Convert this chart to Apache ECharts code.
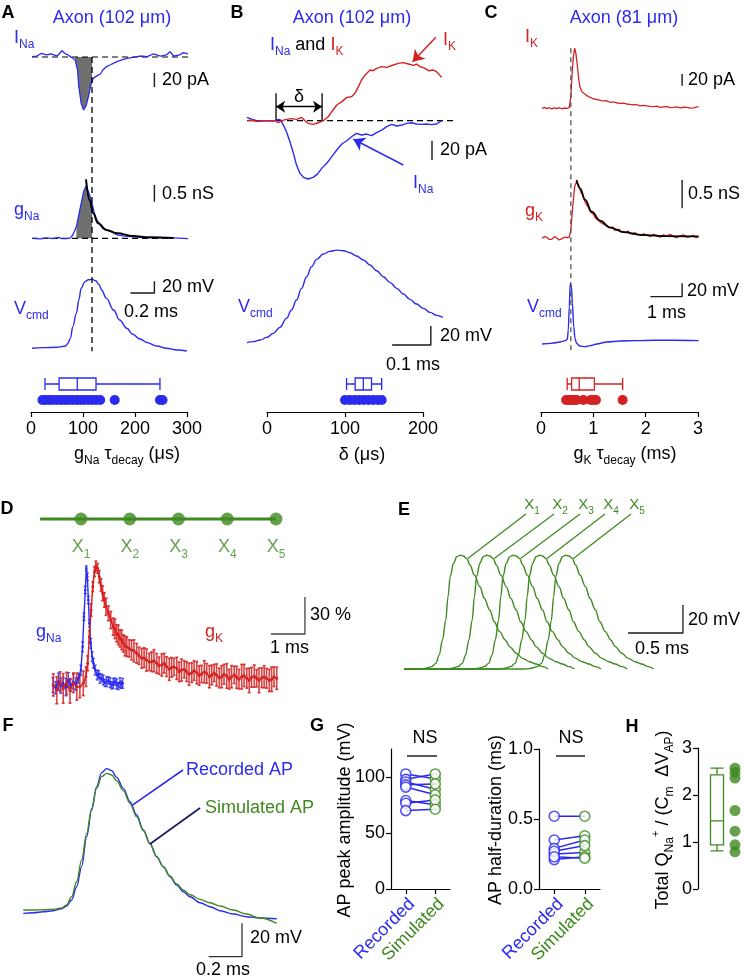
<!DOCTYPE html>
<html><head><meta charset="utf-8">
<script src="https://cdn.jsdelivr.net/npm/echarts@6/dist/echarts.min.js"></script>
<style>html,body{margin:0;padding:0;background:#fff}#c{width:744px;height:979px}</style>
</head><body><div id="c"></div>
<script>
const FONT = '"Liberation Sans", Arial, Helvetica, sans-serif';
const BLUE = '#2b2bef', RED = '#d42222', GREEN = '#3f8a20', GRAY = '#6f6f6f', NAVY = '#17175e';

// ---------------- DATA ----------------
// Panel A (time ms, I pA / g nS / V mV)
const aINa = [[0,0.5],[0.04,1.4],[0.08,5.2],[0.12,2.9],[0.16,4.3],[0.21,1.4],[0.25,9],[0.28,4.3],[0.30,2.9],[0.33,-0.5],[0.36,-4.3],[0.38,-18.6],[0.39,-42.4],[0.41,-66],[0.43,-75.7],[0.45,-70],[0.47,-56.7],[0.49,-40],[0.50,-35],[0.51,-30.5],[0.54,-27],[0.57,-24.3],[0.59,-18.6],[0.62,-13.8],[0.65,-11.4],[0.69,-8.1],[0.73,-5.2],[0.79,-1.9],[0.84,-0.5],[0.90,1.4],[0.96,0.5],[1.01,4.3],[1.07,1.4],[1.12,2.9],[1.15,7.6],[1.18,1.4],[1.23,2.9],[1.26,6.2],[1.30,4.3]];
const aGNa = [[0,0],[0.07,-0.02],[0.12,0.01],[0.18,-0.01],[0.22,0.03],[0.25,-0.01],[0.29,-0.01],[0.32,0.01],[0.34,0.1],[0.37,0.35],[0.39,0.7],[0.41,1.05],[0.43,1.4],[0.45,1.57],[0.46,1.5],[0.48,1.3],[0.50,1.05],[0.52,0.75],[0.54,0.55],[0.57,0.4],[0.59,0.3],[0.62,0.25],[0.66,0.2],[0.71,0.1],[0.76,0.07],[0.82,0.05],[0.90,0.03],[0.98,0.02],[1.07,0.02],[1.18,0.01],[1.30,-0.01]];
const aGNaFit = [[0.45,1.77],[0.48,1.15],[0.51,0.75],[0.55,0.45],[0.62,0.25],[0.71,0.15],[0.84,0.07],[0.98,0.03],[1.18,0.01]];
const aVcmd = [[0,-70],[0.09,-68.9],[0.21,-68.3],[0.28,-66],[0.30,-61.4],[0.32,-52.9],[0.34,-32.9],[0.37,-10],[0.39,12.9],[0.41,32.9],[0.44,44],[0.47,47.5],[0.50,48.3],[0.53,46],[0.56,39],[0.58,30],[0.62,15.7],[0.68,-4.3],[0.73,-21.4],[0.79,-35.7],[0.84,-46],[0.90,-54],[0.96,-60.3],[1.04,-66],[1.12,-70],[1.21,-72.9],[1.29,-74.6]];
const aMark = 0.5;        // ms, dashed vertical line
const aFillRange = [0.35, 0.5];
const aBox = [27, 54, 89, 125, 248];  // gNa tau decay (us): min,Q1,median,Q3,max
const aDots = [22, 28, 35, 42, 50, 58, 65, 72, 80, 88, 95, 102, 110, 118, 125, 133, 161, 248, 253];

// Panel B
const bINa = [[0,3.4],[0.012,1.7],[0.025,0],[0.042,0],[0.059,0],[0.072,0],[0.081,1.4],[0.087,0.7],[0.094,-4.5],[0.102,-11.4],[0.111,-21.7],[0.12,-33.8],[0.128,-45.9],[0.137,-54.5],[0.146,-58.6],[0.158,-60.3],[0.171,-58.6],[0.182,-55.2],[0.193,-49.3],[0.206,-44.1],[0.219,-37.2],[0.232,-30.3],[0.245,-24.1],[0.258,-20.7],[0.27,-16.6],[0.283,-13.1],[0.296,-14.8],[0.309,-13.8],[0.322,-15.5],[0.335,-12.4],[0.348,-9.7],[0.361,-6.2],[0.374,-3.8],[0.387,-5.5],[0.4,-4.5],[0.413,-2.8],[0.425,-2.1],[0.438,-3.4],[0.451,-3.8],[0.464,-3.4],[0.477,-4.1],[0.49,-3.4],[0.503,0]];
const bIK = [[0,0],[0.012,0.7],[0.025,-1],[0.042,0],[0.059,0],[0.072,0],[0.081,-2.1],[0.09,0],[0.102,1.4],[0.115,2.1],[0.128,1.4],[0.141,3.4],[0.15,0],[0.158,-2.8],[0.171,-3.8],[0.184,-2.1],[0.197,0],[0.21,4.1],[0.219,9.3],[0.232,16.2],[0.245,19.7],[0.258,24.1],[0.27,24.8],[0.279,28.3],[0.288,35.2],[0.296,42.1],[0.305,47.2],[0.318,52.4],[0.326,51.7],[0.335,54.1],[0.348,55.9],[0.361,55.2],[0.378,57.6],[0.391,59.3],[0.404,60],[0.417,58.6],[0.43,57.2],[0.438,58.6],[0.447,55.9],[0.46,54.1],[0.469,51.7],[0.481,52.4],[0.49,50.7],[0.503,44.8]];
const bVcmd = [[0,-70],[0.016,-68.9],[0.034,-67.2],[0.051,-64.4],[0.068,-60.2],[0.085,-53.9],[0.102,-44.4],[0.115,-35.6],[0.128,-25.1],[0.141,-12.8],[0.154,-0.5],[0.167,10],[0.18,17.7],[0.197,23.3],[0.214,26.1],[0.232,27.5],[0.249,26.8],[0.266,24.7],[0.283,21.2],[0.301,17],[0.318,11.8],[0.335,5.8],[0.352,-0.5],[0.37,-6.8],[0.387,-12.8],[0.404,-18.8],[0.421,-24.4],[0.438,-29.3],[0.456,-33.9],[0.473,-38.1],[0.49,-41.2],[0.506,-43.3]];
const bDelta = [0.075, 0.194];   // ms
const bBox = [102, 113, 123.5, 134, 147];   // delta (us)
const bDots = [100, 106, 112, 118, 124, 130, 136, 142, 147];

// Panel C
const cIK = [[0,0],[0.08,1.5],[0.15,-0.5],[0.23,1],[0.31,-1],[0.39,0.8],[0.46,-0.6],[0.54,1.2],[0.62,-0.8],[0.7,0.5],[0.78,-0.3],[0.86,1.7],[0.91,20],[0.95,60],[0.99,88.6],[1.03,103],[1.07,94],[1.12,71],[1.16,49],[1.2,36],[1.26,28.6],[1.31,27],[1.36,24],[1.41,22.5],[1.46,20],[1.54,18.5],[1.62,16],[1.7,15.5],[1.78,14.3],[1.86,13],[1.94,12.6],[2.02,13],[2.09,11.4],[2.17,10.2],[2.25,10.9],[2.35,9.5],[2.46,8.6],[2.56,9],[2.67,7.4],[2.77,6.8],[2.88,5.7],[2.98,6.5],[3.09,4],[3.2,5],[3.31,4],[3.41,3.2],[3.52,2.9],[3.62,3.8],[3.73,1.7],[3.83,2.6],[3.94,2.9],[4.04,1.2],[4.15,1.7],[4.25,2.4],[4.36,0.6],[4.46,1.8],[4.57,1.7],[4.67,0.3],[4.78,0.6],[4.86,1.9],[4.94,2.9]];
const cGK = [[0,0],[0.08,0.03],[0.15,0.02],[0.23,-0.02],[0.31,-0.02],[0.39,0.03],[0.46,0.01],[0.54,-0.03],[0.62,-0.01],[0.7,0.02],[0.78,0.01],[0.86,0.02],[0.91,0.15],[0.97,0.56],[1.03,0.91],[1.09,1.0],[1.16,0.94],[1.22,0.82],[1.27,0.78],[1.31,0.71],[1.36,0.64],[1.41,0.59],[1.46,0.55],[1.52,0.47],[1.57,0.44],[1.63,0.42],[1.68,0.36],[1.73,0.34],[1.8,0.31],[1.87,0.27],[1.94,0.25],[2.0,0.26],[2.07,0.21],[2.15,0.19],[2.22,0.2],[2.29,0.14],[2.36,0.15],[2.43,0.16],[2.5,0.11],[2.57,0.12],[2.64,0.1],[2.71,0.13],[2.78,0.09],[2.85,0.07],[2.92,0.1],[2.99,0.08],[3.1,0.05],[3.2,0.08],[3.31,0.06],[3.41,0.03],[3.52,0.07],[3.62,0.05],[3.73,0.02],[3.83,0.06],[3.94,0.04],[4.04,0.07],[4.15,0.03],[4.25,0.01],[4.36,0.04],[4.46,0.06],[4.57,0.02],[4.67,0.03],[4.78,0.05],[4.86,0.01],[4.94,0.03]];
const cGKFit = [[1.09,1.03],[1.2,0.88],[1.36,0.68],[1.57,0.47],[1.83,0.31],[2.15,0.19],[2.57,0.11],[3.09,0.06],[3.83,0.04],[4.94,0.035]];
const cVcmd = [[0,-70],[0.15,-69.5],[0.36,-68.5],[0.57,-67],[0.73,-65],[0.8,-63],[0.83,-49],[0.86,-14],[0.89,21],[0.93,16],[0.96,-9],[1.0,-44],[1.04,-61.5],[1.09,-69],[1.2,-73],[1.36,-74],[1.52,-72.5],[1.73,-70],[2.04,-67],[2.46,-65.5],[2.99,-65],[3.52,-64.5],[4.15,-64.5],[4.94,-65]];
const cMark = 0.91;
const cBox = [0.5, 0.585, 0.73, 1.02, 1.56];   // gK tau decay (ms)
const cDots = [0.48, 0.52, 0.56, 0.6, 0.64, 0.68, 0.81, 0.95, 1.0, 1.05, 1.56];

// Panel D (normalised conductance, %)
const siteNames = ['1', '2', '3', '4', '5'];
const dSites = [1, 2, 3, 4, 5];
const dAxonStart = 0.16;
const dGNa = [[0,3.3],[0.08,1],[0.16,6],[0.23,2.5],[0.3,4.6],[0.38,1.5],[0.45,7.3],[0.52,3],[0.6,6],[0.67,4],[0.75,8.7],[0.82,15.4],[0.87,34.4],[0.91,58.8],[0.95,80.5],[0.98,98.1],[1.01,91.3],[1.04,72.4],[1.07,53.4],[1.11,37.1],[1.15,26.3],[1.19,20.9],[1.24,15.4],[1.3,11.4],[1.34,12],[1.38,8.7],[1.43,9],[1.48,7.3],[1.53,5],[1.58,6],[1.63,7],[1.68,5.1],[1.73,3],[1.77,4.6],[1.82,6],[1.87,4.1],[1.92,2.5],[1.97,5.1],[2.01,3.5],[2.05,4.6]];
const dGNaErr = [6,5,7,6,5,7,6,5,6,5,4,4,4,3,3,2,3,3,3,4,4,4,4,4,3,4,3,4,3,4,3,4,3,4,3,4,3,4,3,4];
const dGK = [[0.01,3.3],[0.11,-1],[0.21,6],[0.3,0.5],[0.4,4.6],[0.5,-1.5],[0.6,5.1],[0.7,2],[0.79,1.9],[0.89,4.6],[0.97,10],[1.02,20.9],[1.07,42.5],[1.12,64.2],[1.17,83.2],[1.22,95.4],[1.26,100],[1.31,98.1],[1.36,91.3],[1.41,84.6],[1.46,77.8],[1.51,72.4],[1.56,66.9],[1.63,61.5],[1.7,56.1],[1.77,50.7],[1.82,49],[1.87,45.3],[1.92,44],[1.97,41.2],[2.02,40],[2.07,37.1],[2.12,35],[2.17,34.4],[2.24,33],[2.31,31.7],[2.38,31],[2.46,29],[2.53,27],[2.61,24.9],[2.68,25.5],[2.75,23.6],[2.83,22],[2.9,22.2],[2.97,23],[3.05,20.9],[3.12,19],[3.2,19.5],[3.27,21],[3.34,18.2],[3.42,16],[3.49,17.6],[3.56,18],[3.64,16.8],[3.71,14],[3.78,15.4],[3.86,16],[3.93,14.1],[4.0,12],[4.08,13.3],[4.15,15],[4.23,13.3],[4.3,11],[4.37,12.2],[4.45,14],[4.52,12.7],[4.6,10],[4.67,11.4],[4.74,13],[4.81,11.4],[4.89,9],[4.96,10],[5.03,12],[5.11,10.6],[5.18,8],[5.25,10],[5.33,11.5],[5.4,9.5],[5.47,8],[5.55,10],[5.62,11],[5.7,8.7],[5.77,7],[5.84,9.5],[5.92,10.5],[5.99,8.7],[6.06,7],[6.14,9.2],[6.21,10],[6.28,8.7],[6.36,7],[6.43,7.9],[6.5,10],[6.58,8.7]];
const dGKErr = [9,11,8,12,9,10,8,11,9,10, 8,6,5,5,4,4,4,4,5,5, 6,6,7,6,7,7,8,7,8,7, 8,7,8,8,7,8,9,8,7,8, 8,9,7,8,9,8,7,9,8,8, 9,8,7,9,8,9,7,8,9,8, 8,9,8,7,9,8,9,8,7,9, 8,9,8,10,8,9,7,9,8,10, 9,8,10,8,9,7,10,8,9,8, 9,10,8,9];

// Panel E (simulated AP at X1..X5)
const eShape = [[0,-70],[0.14,-70],[0.2,-69.5],[0.25,-68.3],[0.29,-66],[0.32,-60],[0.35,-49.3],[0.38,-35],[0.4,-18.3],[0.42,-4],[0.45,5.5],[0.48,10.2],[0.51,11.2],[0.54,10.7],[0.57,9],[0.6,4.3],[0.64,-2.9],[0.69,-11.2],[0.73,-19.5],[0.78,-27.9],[0.82,-36.2],[0.87,-43.3],[0.92,-49.3],[0.96,-54],[1.02,-58.8],[1.08,-62.4],[1.14,-64.8],[1.2,-66.4],[1.26,-68.3],[1.31,-70]];
const eDelays = [0, 0.24, 0.48, 0.72, 0.96];   // ms

// Panel F
const fRecorded = [[0,-71.6],[0.06,-71.2],[0.12,-70.6],[0.18,-70],[0.23,-68.8],[0.26,-67.2],[0.29,-63.6],[0.32,-55.6],[0.35,-43.6],[0.38,-25.6],[0.41,-9.6],[0.44,4.4],[0.47,12.8],[0.5,15.2],[0.53,14],[0.56,10],[0.6,3.4],[0.64,-4.6],[0.68,-12.6],[0.72,-21.6],[0.76,-29.6],[0.8,-37.6],[0.84,-43.6],[0.88,-49.6],[0.92,-54.6],[0.96,-58.6],[1.0,-61.6],[1.06,-65.2],[1.12,-67.6],[1.18,-70],[1.26,-72],[1.34,-73.6],[1.42,-74.4],[1.52,-74.8]];
const fSimulated = [[0,-69.6],[0.06,-69.6],[0.12,-69.4],[0.18,-69.2],[0.23,-68.4],[0.26,-66.6],[0.29,-61.6],[0.32,-52.6],[0.35,-39.6],[0.38,-23.6],[0.41,-8.6],[0.44,3.4],[0.47,10.4],[0.5,12.4],[0.53,11.4],[0.56,8],[0.6,2],[0.64,-5.6],[0.68,-13.6],[0.72,-22],[0.76,-30],[0.8,-37.6],[0.84,-43.6],[0.88,-49.2],[0.92,-54],[0.96,-57.6],[1.0,-60.4],[1.06,-63.2],[1.12,-65.2],[1.18,-67.2],[1.26,-69.6],[1.34,-72],[1.42,-74.4],[1.52,-77.6]];

// Panel G
const gCats = ['Recorded', 'Simulated'];
const gAmpRec = [102.7, 97.9, 95.5, 93, 91, 79, 76.5, 70];
const gAmpSim = [98.5, 102.7, 89, 93.8, 84.2, 75.3, 79.5, 71.2];
const gAmpTicks = [0, 50, 100];
const gHalfRec = [0.52, 0.35, 0.29, 0.25, 0.21, 0.27, 0.23];
const gHalfSim = [0.52, 0.38, 0.35, 0.26, 0.23, 0.31, 0.22];

// Panel H
const hBox = [0.81, 0.94, 1.45, 2.43, 2.57];
const hDots = [2.57, 2.48, 2.36, 1.67, 1.23, 0.94, 0.79];

// ---------------- BUILD ----------------
const grids = [], xAxes = [], yAxes = [], series = [], graphics = [];

function addGrid(x0, sx, y0, sy, xr, yr) {
  const i = grids.length;
  grids.push({left: x0 + xr[0] * sx, top: y0 - yr[1] * sy, width: (xr[1] - xr[0]) * sx, height: (yr[1] - yr[0]) * sy});
  xAxes.push({type: 'value', gridIndex: i, min: xr[0], max: xr[1], show: false});
  yAxes.push({type: 'value', gridIndex: i, min: yr[0], max: yr[1], show: false});
  return i;
}
function line(gi, data, color, width, extra) {
  const s = Object.assign({type: 'line', xAxisIndex: gi, yAxisIndex: gi, data: data, symbol: 'none', showSymbol: false,
    lineStyle: {color: color, width: width}, itemStyle: {color: color}, silent: true, animation: false, clip: false, z: 3}, extra || {});
  series.push(s);
  return s;
}
function richSet(size, sub) {
  const cols = {B: BLUE, R: RED, G: GREEN, K: '#000'};
  const r = {};
  for (const k in cols) {
    r['m' + k] = {fontSize: size, lineHeight: size + 8, fill: cols[k], fontFamily: FONT};
    r['s' + k] = {fontSize: sub, lineHeight: sub + 4, verticalAlign: 'bottom', fill: cols[k], fontFamily: FONT};
    r['p' + k] = {fontSize: sub - 1, lineHeight: sub + 6, verticalAlign: 'top', fill: cols[k], fontFamily: FONT};
  }
  return r;
}
function T(x, y, text, color, o) {
  o = o || {};
  const size = o.size || 18, sub = o.sub || 12;
  graphics.push({type: 'text', x: x, y: y, rotation: o.rot || 0, z: 100, silent: true,
    style: {text: text, fill: color || '#000', fontSize: size, fontFamily: FONT, fontWeight: o.bold ? 'bold' : 'normal',
      align: o.align || 'left', verticalAlign: 'middle', rich: richSet(size, sub)}});
}
function L(x1, y1, x2, y2, color, w, dash) {
  graphics.push({type: 'line', z: 50, silent: true, shape: {x1: x1, y1: y1, x2: x2, y2: y2},
    style: {stroke: color, lineWidth: w || 1.3, lineDash: dash || null}});
}
const SB = '#1a1a1a';
const dashed = {type: [6, 4]};

// ---- Panel A ----
const gA1 = addGrid(32, 120, 57, 0.7, [0, 1.3], [-80, 20]);
const gA2 = addGrid(32, 120, 238.3, 33.3, [0, 1.3], [-0.1, 1.9]);
const gA3 = addGrid(32, 120, 307.5, 0.583, [0, 1.3], [-80, 55]);
const inFill = p => p[0] >= aFillRange[0] && p[0] <= aFillRange[1];
line(gA1, aINa.filter(inFill), GRAY, 0, {areaStyle: {color: GRAY, opacity: 1}, z: 1});
line(gA2, aGNa.filter(inFill), GRAY, 0, {areaStyle: {color: GRAY, opacity: 1}, z: 1});
line(gA1, [[0, 0], [1.3, 0]], '#000', 1.2, {lineStyle: Object.assign({color: '#000', width: 1.2}, dashed), z: 2});
line(gA2, [[0, 0], [1.17, 0]], '#000', 1.2, {lineStyle: Object.assign({color: '#000', width: 1.2}, dashed), z: 2});
line(gA1, aINa, BLUE, 1.3);
line(gA2, aGNa, BLUE, 1.3);
line(gA2, aGNaFit, '#000', 2, {smooth: 0.4, smoothMonotone: 'x', z: 4});
line(gA3, aVcmd, BLUE, 1.4, {smooth: 0.4, smoothMonotone: 'x'});
line(gA1, [[1.02, -23], [1.02, -43]], SB, 1.4);
line(gA2, [[1.02, 1.6], [1.02, 1.1]], SB, 1.4);
line(gA3, [[0.82, 25], [1.02, 25], [1.02, 45]], SB, 1.4);

// ---- Panel B ----
const gB1 = addGrid(247, 387, 120.7, 0.967, [0, 0.55], [-70, 90]);
const gB2 = addGrid(247, 387, 276.2, 0.95, [0, 0.55], [-80, 35]);
line(gB1, [[0, 0], [0.537, 0]], '#000', 1.2, {lineStyle: Object.assign({color: '#000', width: 1.2}, dashed), z: 2,
  markLine: {silent: true, animation: false, symbol: ['arrow', 'arrow'], symbolSize: 9, label: {show: false},
    lineStyle: {color: '#000', width: 1.3, type: 'solid'},
    data: [[{coord: [bDelta[0], 14.5]}, {coord: [bDelta[1], 14.5]}]]}});
line(gB1, [[bDelta[0], 0], [bDelta[0], 28.3]], '#000', 1.3);
line(gB1, [[bDelta[1], 0], [bDelta[1], 28.3]], '#000', 1.3);
line(gB1, bINa, BLUE, 1.4, {markLine: {silent: true, animation: false, symbol: ['none', 'arrow'], symbolSize: 11, label: {show: false},
  lineStyle: {color: BLUE, width: 1.5, type: 'solid'}, data: [[{coord: [0.404, -45.8]}, {coord: [0.275, -19.2]}]]}});
line(gB1, bIK, RED, 1.4, {markLine: {silent: true, animation: false, symbol: ['none', 'arrow'], symbolSize: 11, label: {show: false},
  lineStyle: {color: RED, width: 1.5, type: 'solid'}, data: [[{coord: [0.488, 86.2]}, {coord: [0.428, 61]}]]}});
line(gB2, bVcmd, BLUE, 1.4, {smooth: 0.4, smoothMonotone: 'x'});
line(gB1, [[0.478, -20.7], [0.478, -40.7]], SB, 1.4);
line(gB2, [[0.375, -72.4], [0.475, -72.4], [0.475, -52.4]], SB, 1.4);

// ---- Panel C ----
const gC1 = addGrid(542, 31.7, 108.3, 0.583, [0, 5], [-10, 110]);
const gC2 = addGrid(542, 31.7, 238.3, 56.7, [0, 5], [-0.1, 1.1]);
const gC3 = addGrid(542, 31.7, 297.3, 0.667, [0, 5], [-80, 30]);
line(gC1, cIK, RED, 1.3);
line(gC2, cGK, RED, 1.3);
line(gC2, cGKFit, '#000', 1.8, {smooth: 0.4, smoothMonotone: 'x', z: 4});
line(gC3, cVcmd, BLUE, 1.4, {smooth: 0.3, smoothMonotone: 'x'});
line(gC1, [[4.42, 58.8], [4.42, 38.8]], SB, 1.4);
line(gC2, [[4.42, 1.03], [4.42, 0.53]], SB, 1.4);
line(gC3, [[3.42, 1], [4.42, 1], [4.42, 21]], SB, 1.4);

// ---- Box plots A/B/C ----
function boxGrid(left, width, xr, interval, color, box, dots) {
  const i = grids.length;
  grids.push({left: left, top: 376, width: width, height: 32});
  xAxes.push({type: 'value', gridIndex: i, min: xr[0], max: xr[1], interval: interval, offset: 4,
    axisLine: {show: true, onZero: false, lineStyle: {color: '#000', width: 1.2}},
    axisTick: {show: true, length: 5, lineStyle: {color: '#000', width: 1.2}},
    axisLabel: {fontSize: 18, color: '#000', fontFamily: FONT, margin: 8}, splitLine: {show: false}});
  yAxes.push({type: 'category', gridIndex: i, data: ['box', 'dots'], inverse: true, show: false});
  series.push({type: 'boxplot', xAxisIndex: i, yAxisIndex: i, data: [box], boxWidth: [12, 12], silent: true, animation: false,
    itemStyle: {color: '#fff', borderColor: color, borderWidth: 1.3}});
  series.push({type: 'scatter', xAxisIndex: i, yAxisIndex: i, data: dots.map(v => [v, 1]), symbolSize: 10, silent: true, animation: false,
    itemStyle: {color: color, opacity: 1}});
}
boxGrid(31, 156, [0, 300], 100, BLUE, aBox, aDots);
boxGrid(267, 156, [0, 200], 100, BLUE, bBox, bDots);
boxGrid(541, 157, [0, 3], 1, RED, cBox, cDots);

// ---- Panel D ----
const gD0 = addGrid(32.25, 48.75, 519, 1, [0.16, 5.05], [-10, 10]);
line(gD0, [[dAxonStart, 0], [dSites[dSites.length - 1], 0]], GREEN, 3.2);
series.push({type: 'scatter', xAxisIndex: gD0, yAxisIndex: gD0, data: dSites.map(v => [v, 0]), symbolSize: 13, silent: true, animation: false, z: 4,
  itemStyle: {color: GREEN},
  label: {show: true, position: 'bottom', distance: 9, color: GREEN, fontSize: 18, lineHeight: 26, fontFamily: FONT,
    formatter: p => 'X{s|' + siteNames[p.dataIndex] + '}',
    rich: {s: {fontSize: 12, lineHeight: 16, verticalAlign: 'bottom', color: GREEN, fontFamily: FONT}}}});
const gD = addGrid(53, 34, 689, 1.23, [0, 7.5], [-15, 110]);
function errSeries(gi, pts, errs, color, w) {
  series.push({type: 'custom', xAxisIndex: gi, yAxisIndex: gi, silent: true, animation: false, clip: false, z: 2,
    data: pts.map((p, k) => [p[0], p[1] - errs[k], p[1] + errs[k]]),
    encode: {x: 0, y: [1, 2]},
    renderItem: function (params, api) {
      const x = api.value(0);
      const lo = api.coord([x, api.value(1)]), hi = api.coord([x, api.value(2)]);
      const st = {stroke: color, lineWidth: w, opacity: 0.85};
      return {type: 'group', children: [
        {type: 'line', shape: {x1: lo[0], y1: lo[1], x2: hi[0], y2: hi[1]}, style: st},
        {type: 'line', shape: {x1: lo[0] - 1.5, y1: lo[1], x2: lo[0] + 1.5, y2: lo[1]}, style: st},
        {type: 'line', shape: {x1: hi[0] - 1.5, y1: hi[1], x2: hi[0] + 1.5, y2: hi[1]}, style: st}]};
    }});
}
errSeries(gD, dGNa, dGNaErr, BLUE, 1.3);
line(gD, dGNa, BLUE, 1.4, {symbol: 'circle', showSymbol: true, symbolSize: 2.5});
errSeries(gD, dGK, dGKErr, RED, 1.6);
line(gD, dGK, RED, 1.5, {symbol: 'circle', showSymbol: true, symbolSize: 3});
line(gD, [[6.41, 44.7], [7.41, 44.7], [7.41, 74.7]], '#444', 1.3);

// ---- Panel E ----
const gE = addGrid(404, 110, 571, 1.4, [0, 2.6], [-75, 20]);
eDelays.forEach(d => {
  line(gE, [[0, -70]].concat(eShape.map(p => [p[0] + d, p[1]])), GREEN, 1.4, {smooth: 0.35, smoothMonotone: 'x'});
});
line(gE, [[2.036, -44.3], [2.536, -44.3], [2.536, -24.3]], SB, 1.3);

// ---- Panel F ----
const gF = addGrid(23.3, 166.7, 794, 1.667, [0, 1.6], [-100, 20]);
line(gF, fRecorded, BLUE, 1.4, {smooth: 0.35, smoothMonotone: 'x'});
line(gF, fSimulated, GREEN, 1.4, {smooth: 0.35, smoothMonotone: 'x'});
line(gF, [[1.112, -97.6], [1.312, -97.6], [1.312, -77.6]], '#333', 1.3);

// ---- Panel G ----
function pairGrid(left, width, ymax, interval, ticks, rec, sim, fmt) {
  const i = grids.length;
  grids.push({left: left, top: 749, width: width, height: 140});
  xAxes.push({type: 'category', gridIndex: i, data: gCats, boundaryGap: true,
    axisLine: {show: true, lineStyle: {color: '#000', width: 1.2}},
    axisTick: {show: true, alignWithLabel: true, length: 5, lineStyle: {color: '#000', width: 1.2}},
    axisLabel: {interval: 0, rotate: 45, fontSize: 18, fontFamily: FONT, margin: 6, verticalAlign: 'top',
      color: (v, idx) => (idx === 0 || v === gCats[0]) ? BLUE : GREEN}});
  const yAx = {type: 'value', gridIndex: i, min: 0, max: ymax, interval: interval,
    axisLine: {show: true, lineStyle: {color: '#000', width: 1.2}},
    axisTick: {show: true, length: 5, lineStyle: {color: '#000', width: 1.2}},
    axisLabel: {fontSize: 18, color: '#000', fontFamily: FONT, margin: 6, formatter: fmt}, splitLine: {show: false}};
  if (ticks) { yAx.axisTick.customValues = ticks; yAx.axisLabel.customValues = ticks; }
  yAxes.push(yAx);
  rec.forEach((r, k) => {
    series.push({type: 'line', xAxisIndex: i, yAxisIndex: i, data: [r, sim[k]], symbol: 'none', silent: true, animation: false,
      lineStyle: {color: BLUE, width: 1.5}, z: 2});
  });
  series.push({type: 'scatter', xAxisIndex: i, yAxisIndex: i, data: rec.map(v => [0, v]), symbolSize: 10, silent: true, animation: false, z: 5,
    itemStyle: {color: '#fff', borderColor: BLUE, borderWidth: 1.6}});
  series.push({type: 'scatter', xAxisIndex: i, yAxisIndex: i, data: sim.map(v => [1, v]), symbolSize: 10, silent: true, animation: false, z: 5,
    itemStyle: {color: '#fff', borderColor: GREEN, borderWidth: 1.6}});
  return i;
}
pairGrid(391, 59, 125, 50, gAmpTicks, gAmpRec, gAmpSim, v => String(v));
pairGrid(539, 61, 1.0, 0.5, null, gHalfRec, gHalfSim, v => v.toFixed(1));

// ---- Panel H ----
(function () {
  const i = grids.length;
  grids.push({left: 708, top: 748, width: 39.4, height: 141});
  xAxes.push({type: 'category', gridIndex: i, data: ['box', 'dots'], show: false});
  yAxes.push({type: 'value', gridIndex: i, min: 0, max: 3, interval: 1, offset: 10,
    axisLine: {show: true, lineStyle: {color: '#000', width: 1.2}},
    axisTick: {show: true, length: 5, lineStyle: {color: '#000', width: 1.2}},
    axisLabel: {fontSize: 18, color: '#000', fontFamily: FONT, margin: 6}, splitLine: {show: false}});
  series.push({type: 'boxplot', xAxisIndex: i, yAxisIndex: i, data: [hBox], boxWidth: [13, 13], silent: true, animation: false,
    itemStyle: {color: '#fff', borderColor: GREEN, borderWidth: 1.3}});
  series.push({type: 'scatter', xAxisIndex: i, yAxisIndex: i, data: hDots.map(v => [1, v]), symbolSize: 11, silent: true, animation: false,
    itemStyle: {color: GREEN}});
})();

// ---------------- TEXT ----------------
// A
T(8, 13, 'A', '#000', {bold: true, align: 'center'});
T(112, 18, 'Axon (102 μm)', BLUE, {align: 'center'});
T(14, 38, '{mB|I}{sB|Na}', BLUE);
T(14, 210, '{mB|g}{sB|Na}', BLUE);
T(14, 309, '{mB|V}{sB|cmd}', BLUE);
T(162, 80, '20 pA'); T(162, 194, '0.5 nS'); T(162, 287, '20 mV'); T(124, 312, '0.2 ms');
T(127, 454, '{mK|g}{sK|Na}{mK| τ}{sK|decay}{mK| (μs)}', '#000', {align: 'center'});
// B
T(237, 13, 'B', '#000', {bold: true, align: 'center'});
T(352, 18, 'Axon (102 μm)', BLUE, {align: 'center'});
T(270, 45, '{mB|I}{sB|Na}{mK| and }{mR|I}{sR|K}', '#000');
T(443, 40, '{mR|I}{sR|K}', RED);
T(413, 183, '{mB|I}{sB|Na}', BLUE);
T(299, 97, 'δ', '#000', {align: 'center'});
T(440, 150, '20 pA');
T(238, 307, '{mB|V}{sB|cmd}', BLUE);
T(440, 336, '20 mV'); T(386, 365, '0.1 ms');
T(362, 455, 'δ (μs)', '#000', {align: 'center'});
// C
T(491, 13, 'C', '#000', {bold: true, align: 'center'});
T(624, 18, 'Axon (81 μm)', BLUE, {align: 'center'});
T(525, 37, '{mR|I}{sR|K}', RED);
T(525, 211, '{mR|g}{sR|K}', RED);
T(527, 307, '{mB|V}{sB|cmd}', BLUE);
T(688, 80, '20 pA'); T(688, 194, '0.5 nS'); T(687, 291, '20 mV'); T(647, 313, '1 ms');
T(625, 454, '{mK|g}{sK|K}{mK| τ}{sK|decay}{mK| (ms)}', '#000', {align: 'center'});
// D
T(7, 509, 'D', '#000', {bold: true, align: 'center'});
T(36, 632, '{mB|g}{sB|Na}', BLUE);
T(205, 632, '{mR|g}{sR|K}', RED);
T(310, 615, '30 %'); T(270, 648, '1 ms');
// E
T(404, 510, 'E', '#000', {bold: true, align: 'center'});
const eLabelX = [532, 560, 586, 611, 637];
siteNames.forEach((n, k) => T(eLabelX[k], 505, '{mG|X}{sG|' + n + '}', GREEN, {align: 'center', size: 15, sub: 10}));
T(688, 620, '20 mV'); T(635, 649, '0.5 ms');
// F
T(8, 726, 'F', '#000', {bold: true, align: 'center'});
T(186, 770, 'Recorded AP', BLUE);
T(205, 808, 'Simulated AP', GREEN);
T(250, 938, '20 mV'); T(196, 970, '0.2 ms');
// G
T(317, 726, 'G', '#000', {bold: true, align: 'center'});
T(425, 738, 'NS', '#000', {align: 'center'});
T(571, 738, 'NS', '#000', {align: 'center'});
L(407, 756, 437, 756, '#000', 1.3);
L(556, 756, 585, 756, '#000', 1.3);
T(345, 820, 'AP peak amplitude (mV)', '#000', {align: 'center', rot: Math.PI / 2});
T(496, 820, 'AP half-duration (ms)', '#000', {align: 'center', rot: Math.PI / 2});
// H
T(632, 727, 'H', '#000', {bold: true, align: 'center'});
T(663, 820, '{mK|Total Q}{sK|Na}{pK|+}{mK| / (C}{sK|m}{mK|  ΔV}{sK|AP}{mK|)}', '#000', {align: 'center', rot: Math.PI / 2});

// ---------------- RENDER ----------------
const chart = echarts.init(document.getElementById('c'), null, {renderer: 'canvas'});
chart.setOption({animation: false, textStyle: {fontFamily: FONT}, grid: grids, xAxis: xAxes, yAxis: yAxes, series: series});

function px(gi, pt) { return chart.convertToPixel({gridIndex: gi}, pt); }
// cross-trace dashed markers
let p1 = px(gA1, [aMark, 0]), p2 = px(gA3, [aMark, -75]);
L(p1[0], p1[1], p2[0], p2[1], '#000', 1.3, [6, 4]);
p1 = px(gC1, [cMark, 103]); p2 = px(gC3, [cMark, -79]);
L(p1[0], p1[1], p2[0], p2[1], '#555', 1.3, [5, 4]);
// E connectors from each AP peak to its label
eDelays.forEach((d, k) => {
  const s = px(gE, [d + 0.58, 9]);
  L(s[0], s[1], eLabelX[k] - 6, 514, GREEN, 1.3);
});
// F connectors
let s1 = px(gF, [0.65, -7]);
L(s1[0], s1[1], 183, 770, BLUE, 1.6);
s1 = px(gF, [0.76, -30]);
L(s1[0], s1[1], 200, 808, NAVY, 1.6);

chart.setOption({graphic: graphics});
</script></body></html>
